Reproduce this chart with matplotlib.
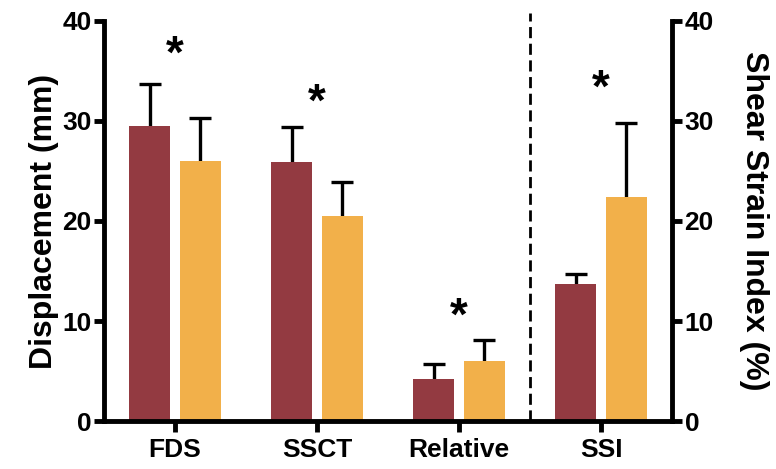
import matplotlib.pyplot as plt
import numpy as np

plt.rcParams['font.family'] = ['Liberation Sans', 'DejaVu Sans']
plt.rcParams['font.weight'] = 'bold'

# data
groups = ['FDS', 'SSCT', 'Relative', 'SSI']
maroon_vals = [29.5, 25.9, 4.2, 13.7]
maroon_sd = [4.2, 3.5, 1.5, 1.0]
orange_vals = [26.0, 20.5, 6.0, 22.4]
orange_sd = [4.3, 3.4, 2.1, 7.4]
star_y = [35.3, 30.5, 9.1, 31.9]

maroon = '#933A41'
orange = '#F2B04A'

fig = plt.figure(figsize=(7.76, 4.69), dpi=100)
ax = fig.add_axes([0.134, 0.1023, 0.732, 0.853])

x = np.arange(len(groups))
w = 0.29
off = 0.177

ax.bar(x - off, maroon_vals, w, color=maroon, zorder=2)
ax.bar(x + off, orange_vals, w, color=orange, zorder=2)
# symmetric bars drawn behind the columns, so only the upper half shows
ax.errorbar(x - off, maroon_vals, yerr=maroon_sd, fmt='none',
            ecolor='black', elinewidth=2.4, capsize=8, capthick=2.4, zorder=1)
ax.errorbar(x + off, orange_vals, yerr=orange_sd, fmt='none',
            ecolor='black', elinewidth=2.4, capsize=8, capthick=2.4, zorder=1)

for xi, sy in zip(x, star_y):
    ax.text(xi, sy, '*', ha='center', va='baseline', fontsize=33, fontweight='bold')

ax.axvline(2.5, ymin=0, ymax=1.02, color='black', lw=2, ls=(0, (4, 2)), clip_on=False)

ax.set_xlim(-0.5, 3.5)
ax.set_ylim(0, 40)
ax.set_yticks([0, 10, 20, 30, 40])
ax.set_xticks(x)
ax.set_xticklabels(groups, fontsize=19, fontweight='bold')
ax.set_ylabel('Displacement (mm)', fontsize=23, fontweight='bold', labelpad=2)
ax.tick_params(axis='y', labelsize=19, width=3.5, length=7, pad=2)
ax.tick_params(axis='x', width=3.5, length=8, pad=4)
for s in ['top', 'right']:
    ax.spines[s].set_visible(False)
for s in ['left', 'bottom']:
    ax.spines[s].set_linewidth(3.5)

ax2 = ax.twinx()
ax2.set_ylim(0, 40)
ax2.set_yticks([0, 10, 20, 30, 40])
ax2.tick_params(axis='y', labelsize=19, width=3.5, length=7, pad=2)
for s in ['top', 'left', 'bottom']:
    ax2.spines[s].set_visible(False)
ax2.spines['right'].set_linewidth(3.5)
ax2.set_ylabel('Shear Strain Index (%)', fontsize=23, fontweight='bold',
               rotation=270, labelpad=40)

for lab in ax.get_yticklabels() + ax2.get_yticklabels():
    lab.set_fontweight('bold')

fig.savefig('out.png', dpi=100)
